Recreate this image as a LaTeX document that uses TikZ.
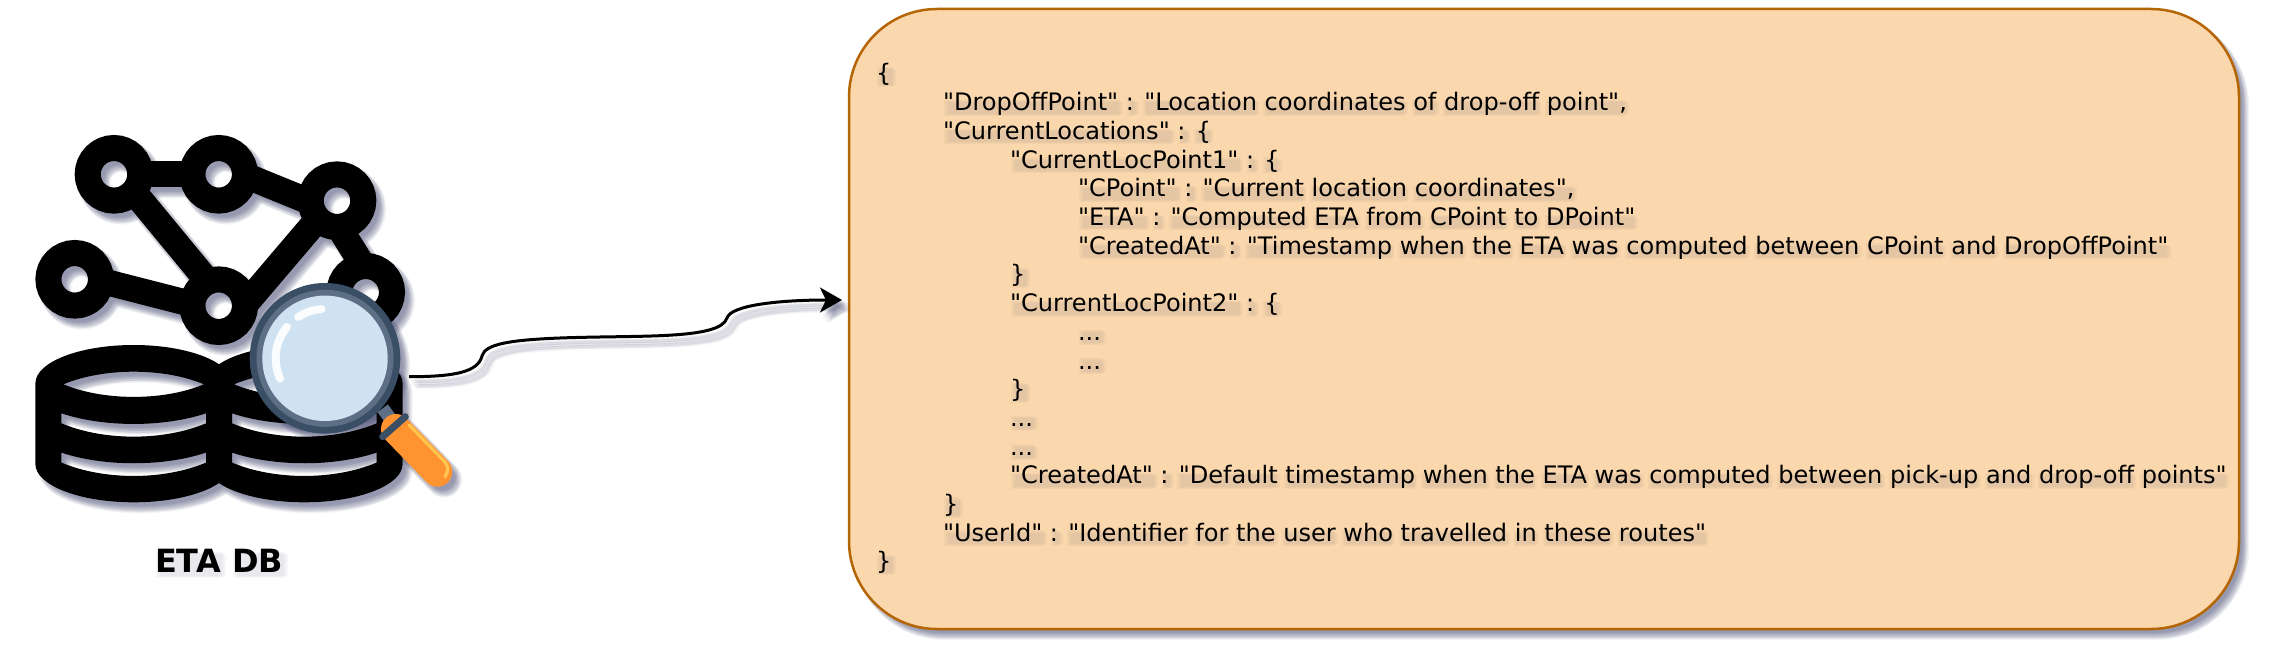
\documentclass[tikz,border=0pt]{standalone}
\usepackage{fontspec}
\setmainfont{DejaVu Sans}[Ligatures=TeXOff]
\usetikzlibrary{arrows.meta,calc}
\definecolor{shd}{RGB}{70,74,115}
\definecolor{boxfill}{HTML}{FAD7AC}
\definecolor{boxline}{HTML}{B46504}
\definecolor{ringdark}{HTML}{3A4F66}
\definecolor{ringmid}{HTML}{5C6F85}
\definecolor{glassblue}{HTML}{CFE2F1}
\definecolor{handleor}{HTML}{FF9330}
\definecolor{handlehi}{HTML}{FFC54D}
\newcommand\softshadow[2][.06]{\foreach \sx/\sy in {6/7,3/7,9/7,6/4,6/10,4/5,8/9,4/9,8/5,2/5,10/9,5/3,7/11}{%
  \begin{scope}[shift={(\sx,\sy)},opacity=#1,fill=shd,draw=shd]#2\end{scope}}}
% soft word-shaped smudges standing for the drop shadow of the text
\newbox\wbox
\newdimen\shtop
\newcommand\oneblob[1]{\setbox\wbox\hbox{#1}%
  \rlap{\kern.6pt\vrule width\wd\wbox height\dimexpr\shtop-1.2pt\relax depth2.5pt}%
  \rlap{\kern1.5pt\vrule width\wd\wbox height\dimexpr\shtop-1.8pt\relax depth2pt}%
  \rlap{\kern2.4pt\vrule width\wd\wbox height\dimexpr\shtop-2.4pt\relax depth1.5pt}%
  \kern\wd\wbox\kern\fontdimen2\font}
\def\shword#1 #2\endsh{\oneblob{#1}\ifx\relax#2\relax\else\shword#2\endsh\fi}
\newcommand\shtxt[2][x]{\leavevmode\shtop=\fontcharht\font`#1\relax
  \rlap{\pgfsetfillopacity{.04}\pgfsetstrokeopacity{.04}\color{shd}\shword#2 \endsh\pgfsetfillopacity{1}\pgfsetstrokeopacity{1}}#2}
\newcommand\cylinder[1]{%
  (#1-98.3,383.3) arc[start angle=180,end angle=360,x radius=98.3,y radius=38.3]
  -- (#1+98.3,464) arc[start angle=0,end angle=180,x radius=98.3,y radius=38.3] -- cycle}
\newcommand\lenshole[1]{%
  (#1-70.3,384.3) .. controls (#1-30,401.1) and (#1+30,401.1) .. (#1+70.3,384.3)
  .. controls (#1+30,367.5) and (#1-30,367.5) .. (#1-70.3,384.3) -- cycle}
\newcommand\crescent[2]{%
  (#1-72.3,#2) -- (#1-72.3,#2+10) .. controls (#1-30,#2+27.8) and (#1+30,#2+27.8) .. (#1+72.3,#2+10)
  -- (#1+72.3,#2) .. controls (#1+30,#2+14.2) and (#1-30,#2+14.2) .. (#1-72.3,#2) -- cycle}
\newcommand\dbpath{\cylinder{133.7} \cylinder{304.3} \lenshole{133.7} \lenshole{304.3}
  \crescent{133.7}{413.3} \crescent{133.7}{452.6} \crescent{304.3}{413.3} \crescent{304.3}{452.6}}
\newcommand\netpath{%
  \coordinate (s1) at (114,174.3); \coordinate (s2) at (218.7,174.3); \coordinate (s3) at (337,200.7);
  \coordinate (s4) at (74.7,279.3); \coordinate (s5) at (218.7,305.7); \coordinate (s6) at (365.7,292.3);
  \draw[line width=13pt,fill=none]
    (s1) circle[radius=26.3] (s2) circle[radius=26.3] (s3) circle[radius=26.3]
    (s4) circle[radius=26.3] (s5) circle[radius=26.3] (s6) circle[radius=26.3]
    ($(s1)+(26,0)$) -- ($(s2)+(-26,0)$)
    ($(s2)+(26,1)$) -- ($(s3)+(-25,2)$)
    ($(s1)+(16.7,13.7)$) -- ($(s5)+(-8,-20.7)$)
    ($(s4)+(24.3,1)$) -- ($(s5)+(-24.7,-1.1)$)
    ($(s5)+(24.3,1.3)$) -- ($(s3)+(-17,15.8)$)
    ($(s3)+(.5,24.3)$) -- ($(s6)+(-3.7,-28.3)$);}
\tikzset{
  jsonline/.style={anchor=base west,inner sep=0pt,outer sep=0pt,font=\fontsize{12.03}{14}\selectfont},
  netnode/.style={circle,draw=black,line width=13pt,minimum size=26.3pt,inner sep=0pt,outer sep=0pt},
  netedge/.style={draw=black,line width=13pt},
  jsonboxstyle/.style={rounded corners=44pt,minimum width=695pt,minimum height=310pt,inner sep=0pt,outer sep=0pt},
  curvepath/.style={line width=1.5pt,-{Stealth[length=11pt,width=12.5pt,inset=3pt]}}
}
\begin{document}
\begin{tikzpicture}[x=.5pt,y=-.5pt]
\useasboundingbox (0,0) rectangle (2274,668);
\fill[white] (0,0) rectangle (2274,668);
\softshadow{\node[jsonboxstyle,fill=shd] at (1544,319) {};}
\node[jsonboxstyle,fill=boxfill,draw=boxline,line width=1.25pt] (jsonbox) at (1544,319) {};
\softshadow{\fill \dbpath;}
\softshadow{\netpath}
\softshadow{\fill (325,358.3) circle[radius=75.3];
  \draw[line width=15pt,line cap=round] (396,429) -- (437.3,471.7);}
\fill[black] \dbpath;
\node[netnode] (n1) at (114,174.3) {};
\node[netnode] (n2) at (218.7,174.3) {};
\node[netnode] (n3) at (337,200.7) {};
\node[netnode] (n4) at (74.7,279.3) {};
\node[netnode] (n5) at (218.7,305.7) {};
\node[netnode] (n6) at (365.7,292.3) {};
\draw[netedge] ($(n1)+(26,0)$) -- ($(n2)+(-26,0)$);
\draw[netedge] ($(n2)+(26,1)$) -- ($(n3)+(-25,2)$);
\draw[netedge] ($(n1)+(16.7,13.7)$) -- ($(n5)+(-8,-20.7)$);
\draw[netedge] ($(n4)+(24.3,1)$) -- ($(n5)+(-24.7,-1.1)$);
\draw[netedge] ($(n5)+(24.3,1.3)$) -- ($(n3)+(-17,15.8)$);
\draw[netedge] ($(n3)+(.5,24.3)$) -- ($(n6)+(-3.7,-28.3)$);
\draw[ringmid,line width=6.5pt] (382.7,408.3) -- (395,425);
\draw[handleor,line width=15pt,line cap=round] (396,429) -- (437.3,471.7);
\draw[handlehi,line width=1.6pt,line cap=round] (409.3,425) -- (445,462) .. controls (449,467) and (448,472) .. (445,476.7);
\draw[ringdark,line width=3.5pt,line cap=round] (382.7,436.7) -- (405.3,416.7);
\node[circle,fill=ringdark,minimum size=75.3pt,inner sep=0pt,outer sep=0pt] (lensouter) at (325,358.3) {};
\fill[ringmid] (lensouter.center) circle[radius=68.5];
\fill[glassblue] (lensouter.center) circle[radius=62.7];
\draw[white,line width=4pt,line cap=round,opacity=.9] (lensouter.center) ++(266:49.3) arc[start angle=266,end angle=237,radius=49.3];
\draw[white,line width=4pt,line cap=round,opacity=.9] (lensouter.center) ++(219.6:49.3) arc[start angle=219.6,end angle=155.7,radius=49.3];
\node[anchor=base west,inner sep=0pt,outer sep=0pt,font=\bfseries\fontsize{16}{18}\selectfont] (etalabel) at (155,572.7) {\shtxt[E]{ETA DB}};
\coordinate (arrowstart) at (409,376.7);
\coordinate (arrowend) at ($(jsonbox.west)+(-7,-19)$);
\softshadow[.045]{\draw[curvepath] (409,376.7) .. controls (455,376.7) and (478,372) .. (482,356) .. controls (485,344) and (510,340) .. (560,338) .. controls (640,335) and (720,340) .. (727,318) .. controls (731,305) and (780,300) .. (842,300);}
\draw[curvepath,black] (arrowstart) .. controls (455,376.7) and (478,372) .. (482,356) .. controls (485,344) and (510,340) .. (560,338) .. controls (640,335) and (720,340) .. (727,318) .. controls (731,305) and (780,300) .. (arrowend);
\node[jsonline] (l0) at (876,82) {\shtxt[k]{\{}};
\node[jsonline] (l1) at (943,110.7) {\shtxt{"DropOffPoint" : "Location coordinates of drop-off point",}};
\node[jsonline] (l2) at (943,139.4) {\shtxt{"CurrentLocations" : \{}};
\node[jsonline] (l3) at (1010,168.1) {\shtxt{"CurrentLocPoint1" : \{}};
\node[jsonline] (l4) at (1078,196.8) {\shtxt{"CPoint" : "Current location coordinates",}};
\node[jsonline] (l5) at (1078,225.5) {\shtxt{"ETA" : "Computed ETA from CPoint to DPoint"}};
\node[jsonline] (l6) at (1078,254.2) {\shtxt{"CreatedAt" : "Timestamp when the ETA was computed between CPoint and DropOffPoint"}};
\node[jsonline] (l7) at (1010,282.9) {\shtxt[k]{\}}};
\node[jsonline] (l8) at (1010,311.6) {\shtxt{"CurrentLocPoint2" : \{}};
\node[jsonline] (l9) at (1078,340.3) {\shtxt{...}};
\node[jsonline] (l10) at (1078,369) {\shtxt{...}};
\node[jsonline] (l11) at (1010,397.7) {\shtxt[k]{\}}};
\node[jsonline] (l12) at (1010,426.4) {\shtxt{...}};
\node[jsonline] (l13) at (1010,455.1) {\shtxt{...}};
\node[jsonline] (l14) at (1010,483.8) {\shtxt{"CreatedAt" : "Default timestamp when the ETA was computed between pick-up and drop-off points"}};
\node[jsonline] (l15) at (943,512.5) {\shtxt[k]{\}}};
\node[jsonline] (l16) at (943,541.2) {\shtxt{"UserId" : "Identifier for the user who travelled in these routes"}};
\node[jsonline] (l17) at (876,569.9) {\shtxt[k]{\}}};
\end{tikzpicture}
\end{document}
